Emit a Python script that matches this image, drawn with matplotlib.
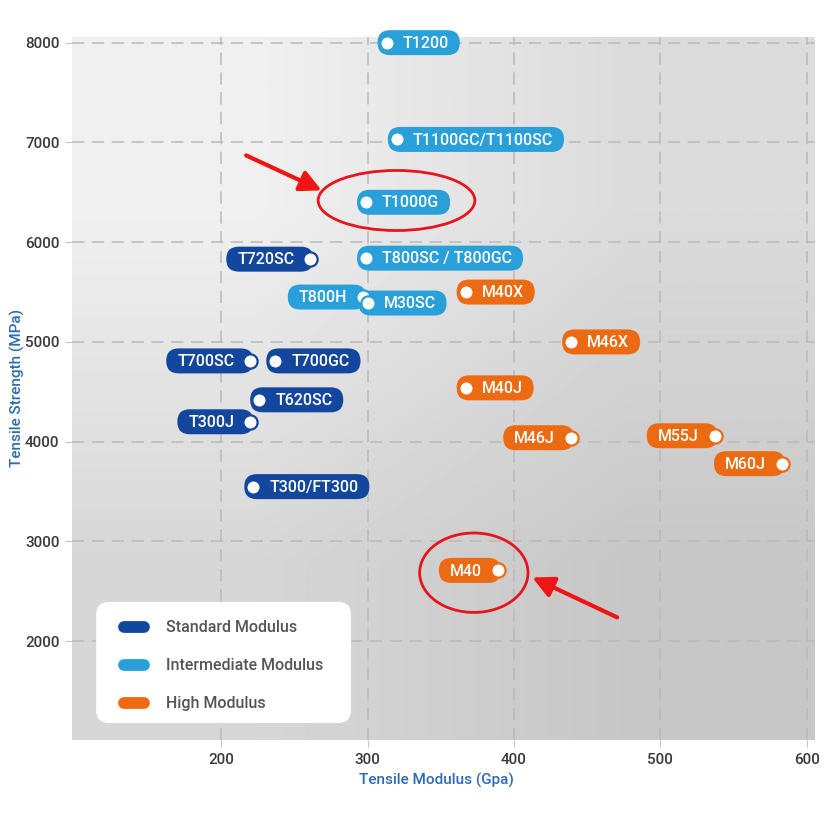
import numpy as np
import matplotlib
matplotlib.use("Agg")
import matplotlib.pyplot as plt
from matplotlib.patches import FancyBboxPatch, Ellipse
from matplotlib.lines import Line2D
from matplotlib.transforms import IdentityTransform

plt.rcParams['font.family'] = ['Roboto', 'DejaVu Sans']

# fibre grades
names = ['T1200', 'T1100GC/T1100SC', 'T1000G', 'T720SC', 'T800SC / T800GC',
         'T800H', 'M30SC', 'M40X', 'M46X', 'T700SC', 'T700GC', 'M40J',
         'T620SC', 'T300J', 'M46J', 'M55J', 'M60J', 'T300/FT300', 'M40']
modulus = [313, 320, 299, 261, 299, 297, 300, 367, 439, 220, 237, 367,
           226, 220, 439, 537, 583, 222, 389]
strength = [8000, 7030, 6400, 5830, 5840, 5450, 5390, 5500, 5000, 4810, 4810,
            4540, 4420, 4200, 4040, 4060, 3780, 3550, 2710]
grade = ['inter', 'inter', 'inter', 'std', 'inter', 'inter', 'inter', 'high',
         'high', 'std', 'std', 'high', 'std', 'std', 'high', 'high', 'high',
         'std', 'high']
side = ['r', 'r', 'r', 'l', 'r', 'l', 'r', 'r', 'r', 'l', 'r', 'r', 'r', 'l',
        'l', 'l', 'l', 'r', 'l']

grade_colors = {'std': '#12479d', 'inter': '#29a0d9', 'high': '#ec6b12'}
legend_keys = ['std', 'inter', 'high']
legend_labels = ['Standard Modulus', 'Intermediate Modulus', 'High Modulus']

fig, ax = plt.subplots(figsize=(8.29, 8.15), dpi=100)
fig.subplots_adjust(left=0.087, right=0.983, bottom=0.092, top=0.955)

xlim = (98.3, 605.5)
ylim = (1010, 8060)
ax.set_xlim(*xlim)
ax.set_ylim(*ylim)

# grey gradient background
grad = np.array([[0.94, 0.86], [0.84, 0.78]])
ax.imshow(grad, cmap='gray', vmin=0, vmax=1, extent=[*xlim, *ylim],
          aspect='auto', interpolation='bilinear', zorder=0)

ax.set_xticks([200, 300, 400, 500, 600])
ax.set_yticks([2000, 3000, 4000, 5000, 6000, 7000, 8000])
ax.grid(True, color='#b9b9b9', linestyle=(0, (8, 5)), linewidth=1.1)
ax.set_axisbelow(True)
for s in ax.spines.values():
    s.set_visible(False)
ax.tick_params(length=5, color='#c4c4c4', labelsize=11, labelcolor='#3a3a3a', pad=4)
for lab in ax.get_xticklabels() + ax.get_yticklabels():
    lab.set_fontweight('medium')

ax.set_xlabel('Tensile Modulus (Gpa)', color='#2a6cb3', fontsize=11, fontweight='medium')
ax.set_ylabel('Tensile Strength (MPa)', color='#2a6cb3', fontsize=11, fontweight='medium')
ax.xaxis.set_label_coords(0.49, -0.047)
ax.yaxis.set_label_coords(-0.064, 0.5)

texts = []
for n, x, y, g, sd in zip(names, modulus, strength, grade, side):
    c = grade_colors[g]
    off = 16 if sd == 'r' else -16
    t = ax.annotate(n, (x, y), xytext=(off * 0.72, -0.5), textcoords='offset points',
                    ha='left' if sd == 'r' else 'right', va='center',
                    color='white', fontsize=11.5, fontweight='medium',
                    zorder=4, annotation_clip=False)
    ax.scatter([x], [y], s=105, color='white', edgecolor=c, linewidth=1.6,
               zorder=5, clip_on=False)
    texts.append((t, x, y, sd, c))

# pill shaped boxes behind the labels, sized from the rendered text
fig.canvas.draw()
renderer = fig.canvas.get_renderer()
for t, x, y, sd, c in texts:
    bb = t.get_window_extent(renderer)
    px, py = ax.transData.transform((x, y))
    h = 25
    if sd == 'r':
        x0, x1 = px - 9, bb.x1 + 11
    else:
        x0, x1 = bb.x0 - 11, px + 3
    pill = FancyBboxPatch((x0, py - h / 2), x1 - x0, h,
                          boxstyle='round,pad=0,rounding_size=%.1f' % (h / 2),
                          transform=IdentityTransform(), facecolor=c,
                          edgecolor='none', zorder=3)
    pill.set_clip_on(False)
    ax.add_artist(pill)

# red highlights
ax.add_patch(Ellipse((319.8, 6418), 107, 602, fill=False, edgecolor='#e8141b',
                     linewidth=2, zorder=6))
ax.add_patch(Ellipse((372.6, 2687), 74, 796, fill=False, edgecolor='#e8141b',
                     linewidth=2, zorder=6))
ax.annotate('', xy=(268.7, 6519), xytext=(217.1, 6870),
            arrowprops=dict(arrowstyle='-|>', color='#f01414', lw=3,
                            mutation_scale=32, shrinkA=0, shrinkB=0), zorder=6)
ax.annotate('', xy=(412.5, 2640), xytext=(470.5, 2239),
            arrowprops=dict(arrowstyle='-|>', color='#f01414', lw=3,
                            mutation_scale=32, shrinkA=0, shrinkB=0), zorder=6)

# legend: white rounded panel plus frameless legend on top
x0, y0 = ax.transAxes.transform((0.0323, 0.0242))
x1, y1 = ax.transAxes.transform((0.3755, 0.1963))
panel = FancyBboxPatch((x0, y0), x1 - x0, y1 - y0,
                       boxstyle='round,pad=0,rounding_size=13',
                       transform=IdentityTransform(), facecolor='white',
                       edgecolor='none', zorder=7)
ax.add_artist(panel)

handles = [Line2D([0], [0], color=grade_colors[k], lw=8.5, solid_capstyle='round')
           for k in legend_keys]
leg = ax.legend(handles, legend_labels, loc='upper left',
                bbox_to_anchor=(0.070, 0.170), borderaxespad=0, borderpad=0,
                fontsize=11.5, labelspacing=1.44, handlelength=1.25,
                handletextpad=1.4, frameon=False)
leg.set_zorder(8)
for txt in leg.get_texts():
    txt.set_color('#555555')
    txt.set_fontweight('medium')

fig.savefig('out.png', dpi=100)
